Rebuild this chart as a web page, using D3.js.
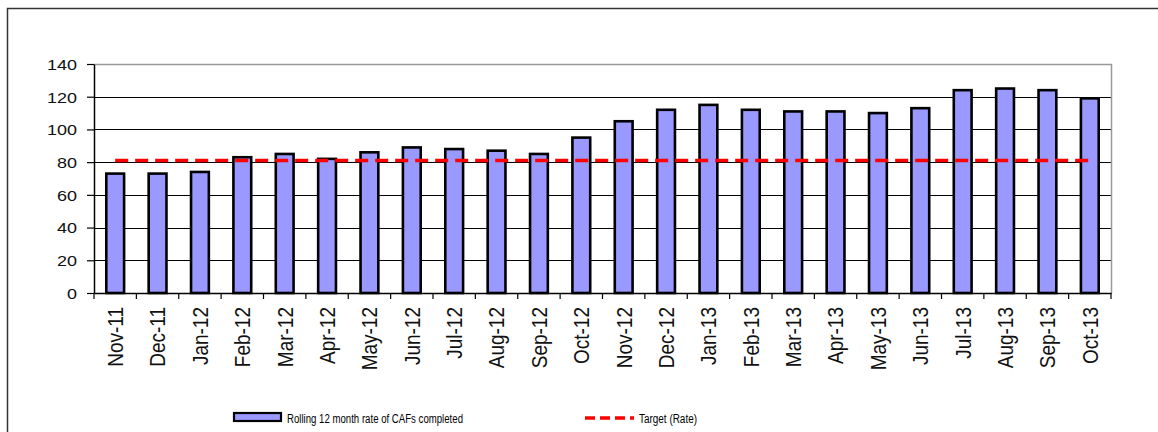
<!DOCTYPE html>
<html>
<head>
<meta charset="utf-8">
<script src="https://cdn.jsdelivr.net/npm/d3@7"></script>
<style>
    body { margin: 0; background: #fff; }
    text { font-family: Arial, "Liberation Sans", sans-serif; fill: #000; }
</style>
</head>
<body>
<div id="chart"></div>
<script>
// chart data
var months = ["Nov-11", "Dec-11", "Jan-12", "Feb-12", "Mar-12", "Apr-12", "May-12", "Jun-12",
    "Jul-12", "Aug-12", "Sep-12", "Oct-12", "Nov-12", "Dec-12", "Jan-13", "Feb-13",
    "Mar-13", "Apr-13", "May-13", "Jun-13", "Jul-13", "Aug-13", "Sep-13", "Oct-13"]
var cafRate = [73, 73, 74, 83, 85, 82, 86, 89, 88, 87, 85, 95, 105, 112, 115, 112,
    111, 111, 110, 113, 124, 125, 124, 119]
var targetRate = [81, 81, 81, 81, 81, 81, 81, 81, 81, 81, 81, 81, 81, 81, 81, 81,
    81, 81, 81, 81, 81, 81, 81, 81]
var yTicks = [0, 20, 40, 60, 80, 100, 120, 140]
var legendLabels = ["Rolling 12 month rate of CAFs completed", "Target (Rate)"]

var width = 1158
var height = 432
var margin = { top: 64, right: 47, bottom: 139, left: 94 }
var innerW = width - margin.left - margin.right
var innerH = height - margin.top - margin.bottom

var svg = d3.select("#chart")
    .append("svg")
    .attr("width", width)
    .attr("height", height)

// outer frame (runs off the right and bottom edges)
svg.append("rect")
    .attr("x", 7.5)
    .attr("y", 8.5)
    .attr("width", width + 20)
    .attr("height", height + 20)
    .attr("fill", "none")
    .attr("stroke", "#333")
    .attr("stroke-width", 1.5)

var g = svg.append("g")
    .attr("transform", "translate(" + margin.left + "," + margin.top + ")")

var x = d3.scaleBand()
    .domain(months)
    .range([0, innerW])
    .paddingInner(0.58)
    .paddingOuter(0.29)

var y = d3.scaleLinear()
    .domain([0, 140])
    .range([innerH, 0])

// gridlines
g.selectAll(".grid")
    .data(yTicks.slice(1, -1))
    .enter()
    .append("line")
    .attr("x1", 0)
    .attr("x2", innerW)
    .attr("y1", function(d) { return Math.round(y(d)) + 0.5 })
    .attr("y2", function(d) { return Math.round(y(d)) + 0.5 })
    .attr("stroke", "#000")
    .attr("stroke-width", 1)

// plot area border (top and right)
g.append("path")
    .attr("d", "M0," + (y(140) + 0.5) + "H" + (innerW + 0.5) + "V" + innerH)
    .attr("fill", "none")
    .attr("stroke", "#999")
    .attr("stroke-width", 1.5)

// bars
g.selectAll(".bar")
    .data(cafRate)
    .enter()
    .append("rect")
    .attr("x", function(d, i) { return x(months[i]) })
    .attr("y", function(d) { return y(d) })
    .attr("width", x.bandwidth())
    .attr("height", function(d) { return innerH - y(d) })
    .attr("fill", "#9999ff")
    .attr("stroke", "#000")
    .attr("stroke-width", 2.6)

// target line
var line = d3.line()
    .x(function(d, i) { return x(months[i]) + x.bandwidth() / 2 })
    .y(function(d) { return y(d) })

g.append("path")
    .datum(targetRate)
    .attr("d", line)
    .attr("fill", "none")
    .attr("stroke", "#ff0000")
    .attr("stroke-width", 3.5)
    .attr("stroke-dasharray", "13,7")

// y axis
var yAxis = g.append("g")
    .call(d3.axisLeft(y).tickValues(yTicks).tickSize(7).tickSizeOuter(0))
yAxis.select(".domain").attr("stroke", "#000").attr("stroke-width", 1.5)
yAxis.selectAll(".tick line").attr("stroke", "#000").attr("stroke-width", 1.2)
yAxis.selectAll(".tick text")
    .attr("x", null)
    .attr("dy", "0.36em")
    .attr("transform", "translate(-17,0) scale(1.2,1)")
    .style("font-size", "15px")
    .style("fill", "#111")

// x axis
var xAxis = g.append("g")
    .attr("transform", "translate(0," + innerH + ")")
    .call(d3.axisBottom(x).tickSize(0).tickSizeOuter(0))
xAxis.select(".domain").attr("stroke", "#000").attr("stroke-width", 1.5)
xAxis.selectAll(".tick text")
    .attr("y", null)
    .attr("dy", "0.36em")
    .attr("transform", "translate(0,14) scale(1.15,1) rotate(-90)")
    .style("text-anchor", "end")
    .style("font-size", "19px")
    .style("fill", "#111")

// category boundary ticks
var bounds = months.map(function(m) { return x(m) - x.step() * x.paddingInner() / 2 })
bounds.push(innerW)
xAxis.selectAll(".btick")
    .data(bounds)
    .enter()
    .append("line")
    .attr("x1", function(d) { return d })
    .attr("x2", function(d) { return d })
    .attr("y1", 0)
    .attr("y2", 6)
    .attr("stroke", "#000")
    .attr("stroke-width", 1.2)

// legend
var legend = svg.append("g")
legend.append("rect")
    .attr("x", 234)
    .attr("y", 413)
    .attr("width", 47)
    .attr("height", 8)
    .attr("fill", "#9999ff")
    .attr("stroke", "#000")
    .attr("stroke-width", 2.2)
legend.append("text")
    .attr("x", 287)
    .attr("y", 423)
    .attr("textLength", 176)
    .attr("lengthAdjust", "spacingAndGlyphs")
    .style("font-size", "12px")
    .text(legendLabels[0])

legend.append("line")
    .attr("x1", 585)
    .attr("x2", 634)
    .attr("y1", 418)
    .attr("y2", 418)
    .attr("stroke", "#ff0000")
    .attr("stroke-width", 3.5)
    .attr("stroke-dasharray", "10,5")
legend.append("text")
    .attr("x", 639)
    .attr("y", 423)
    .attr("textLength", 58)
    .attr("lengthAdjust", "spacingAndGlyphs")
    .style("font-size", "12px")
    .text(legendLabels[1])
</script>
</body>
</html>
